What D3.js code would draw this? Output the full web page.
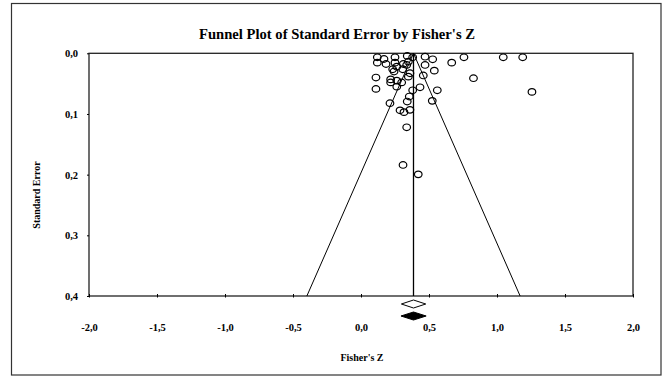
<!DOCTYPE html>
<html>
<head>
<meta charset="utf-8">
<script src="https://cdn.jsdelivr.net/npm/d3@7/dist/d3.min.js"></script>
<style>
  html, body { margin: 0; padding: 0; background: #fff; }
  svg { display: block; }
  text { font-family: "Liberation Serif", "Times New Roman", serif; font-weight: bold; fill: #000; }
</style>
</head>
<body>
<svg id="chart" width="663" height="377"></svg>
<script>
// ---- Data ----
const studyZ = [0.120, 0.120, 0.169, 0.184, 0.250, 0.250, 0.263, 0.233, 0.243, 0.311,
  0.340, 0.348, 0.380, 0.307, 0.360, 0.348, 0.471, 0.527, 0.471, 0.539,
  0.458, 0.667, 0.757, 1.046, 1.189, 0.827, 0.110, 0.110, 0.218, 0.218,
  0.263, 0.299, 0.263, 0.434, 0.380, 0.561, 1.257, 0.355, 0.340, 0.213,
  0.524, 0.287, 0.316, 0.360, 0.336, 0.309, 0.421, 0.336];
const studySE = [0.0066, 0.0154, 0.0094, 0.0176, 0.0066, 0.0154, 0.0220, 0.0263, 0.0300, 0.0176,
  0.0044, 0.0138, 0.0066, 0.0263, 0.0329, 0.0385, 0.0056, 0.0099, 0.0192, 0.0286,
  0.0365, 0.0154, 0.0066, 0.0066, 0.0066, 0.0410, 0.0400, 0.0587, 0.0430, 0.0480,
  0.0450, 0.0480, 0.0550, 0.0560, 0.0610, 0.0610, 0.0636, 0.0713, 0.0795, 0.0822,
  0.0784, 0.0940, 0.0970, 0.0932, 0.1220, 0.1840, 0.1995, 0.0192];
const pooledZ = 0.386;
const funnelMaxSE = 0.4;
const diamondLow = [0.297, 0.294];   // open (observed), filled (imputed)
const diamondHigh = [0.476, 0.479];
const diamondFilled = [false, true];
const xTicks = [-2.0, -1.5, -1.0, -0.5, 0.0, 0.5, 1.0, 1.5, 2.0];
const yTicks = [0.0, 0.1, 0.2, 0.3, 0.4];
const titleText = "Funnel Plot of Standard Error by Fisher's Z";
const xLabel = "Fisher's Z";
const yLabel = "Standard Error";

// ---- Layout ----
const svg = d3.select("#chart");
const L = 89, R = 633, T = 53.3, B = 296;
const x = d3.scaleLinear().domain([-2, 2]).range([L, R]);
const y = d3.scaleLinear().domain([0, 0.4]).range([T, B]);
const fmt = d => d3.format(".1f")(d).replace(".", ",").replace("−", "-");

// outer frame
svg.append("rect").attr("x", 11.5).attr("y", 3.5).attr("width", 649.5).attr("height", 371.5)
  .attr("fill", "none").attr("stroke", "#333").attr("stroke-width", 1.2);

// title
svg.append("text").attr("x", 337).attr("y", 39).attr("text-anchor", "middle")
  .attr("font-size", 15.5).attr("textLength", 276).attr("lengthAdjust", "spacingAndGlyphs")
  .text(titleText);

// plot frame
svg.append("rect").attr("x", L).attr("y", T).attr("width", R - L).attr("height", B - T)
  .attr("fill", "none").attr("stroke", "#222").attr("stroke-width", 1.3);

// x axis
const xAxis = d3.axisBottom(x).tickValues(xTicks).tickSize(0).tickPadding(0).tickFormat(fmt);
const gx = svg.append("g").attr("transform", `translate(0,${B})`).call(xAxis);
gx.select(".domain").remove();
gx.selectAll(".tick text").attr("y", 28).attr("font-size", 10.5).attr("font-family", "Liberation Serif").attr("font-weight", "bold");
gx.selectAll(".tick").append("line").attr("y1", -2).attr("y2", 1.5).attr("stroke", "#000").attr("stroke-width", 1);

// y axis
const yAxis = d3.axisLeft(y).tickValues(yTicks).tickSize(2).tickPadding(9).tickFormat(fmt);
const gy = svg.append("g").attr("transform", `translate(${L},0)`).call(yAxis);
gy.select(".domain").remove();
gy.selectAll(".tick text").attr("font-size", 10.5).attr("font-family", "Liberation Serif").attr("font-weight", "bold");

// axis labels
svg.append("text").attr("x", 362).attr("y", 361).attr("text-anchor", "middle")
  .attr("font-size", 10).text(xLabel);
svg.append("text").attr("transform", "translate(40,195) rotate(-90)").attr("text-anchor", "middle")
  .attr("font-size", 10).text(yLabel);

// funnel
const plot = svg.append("g");
const fl = d3.line().x(d => x(d[0])).y(d => y(d[1]));
plot.append("path").attr("d", fl([[pooledZ - 1.96 * funnelMaxSE, funnelMaxSE], [pooledZ, 0], [pooledZ + 1.96 * funnelMaxSE, funnelMaxSE]]))
  .attr("fill", "none").attr("stroke", "#000").attr("stroke-width", 1);
plot.append("line").attr("x1", x(pooledZ)).attr("x2", x(pooledZ)).attr("y1", y(0)).attr("y2", y(0.4))
  .attr("stroke", "#000").attr("stroke-width", 1.3);

// study points
plot.selectAll("ellipse.pt").data(studyZ.map((z, i) => [z, studySE[i]])).enter()
  .append("ellipse").attr("class", "pt")
  .attr("cx", d => x(d[0])).attr("cy", d => y(d[1]))
  .attr("rx", 3.8).attr("ry", 3.3)
  .attr("fill", "none").attr("stroke", "#000").attr("stroke-width", 1.2);

// summary diamonds
const dY = [304, 316];
diamondLow.forEach((lo, i) => {
  const hi = diamondHigh[i], cx = x(pooledZ), cy = dY[i], h = 4;
  svg.append("path")
    .attr("d", `M${x(lo)},${cy} L${cx},${cy - h} L${x(hi)},${cy} L${cx},${cy + h} Z`)
    .attr("fill", diamondFilled[i] ? "#000" : "#fff")
    .attr("stroke", "#000").attr("stroke-width", 1);
});
</script>
</body>
</html>
